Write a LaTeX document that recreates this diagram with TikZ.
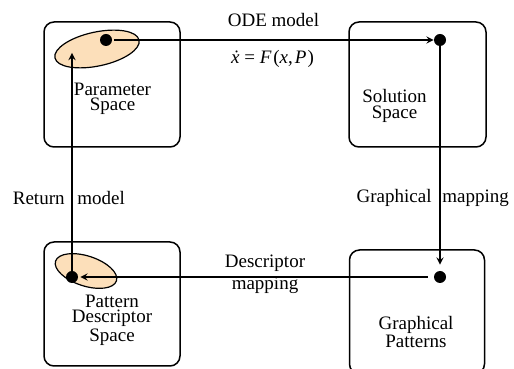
\documentclass[tikz,border=0pt]{standalone}
\usepackage{fontspec}
\setmainfont{Liberation Serif}
\usepackage{tikz}
\usetikzlibrary{shapes.geometric}

\definecolor{peach}{RGB}{252,223,186}
\tikzset{
  spacebox/.style = {draw, rounded corners = 5pt, line width = 0.75pt,
    minimum width = 68pt, minimum height = 62.5pt},
  blob/.style = {draw, ellipse, fill = peach, line width = 0.6pt, inner sep = 0pt},
  dot/.style = {circle, fill = black, minimum size = 6pt, inner sep = 0pt},
  lbl/.style = {font = \fontsize{9.5pt}{7.8pt}\selectfont, align = center},
  link/.style = {->, >=stealth, line width = 0.6pt}
}

\begin{document}
\begin{tikzpicture}[x = 0.5pt, y = 0.5pt]
\useasboundingbox (0, 0) rectangle (514, 369);
% the four spaces
\node (parbox) [spacebox] at (112, 284.5) {};
\node (solbox) [spacebox, minimum width = 68.5pt] at (417.5, 284.5) {};
\node (desbox) [spacebox, minimum height = 62pt] at (112, 65) {};
\node (patbox) [spacebox, minimum width = 67.5pt, minimum height = 62pt] at (417, 57) {};
\node (partext) [lbl] at (112.5, 270) {Parameter\\Space};
\node (soltext) [lbl] at (394.5, 263) {Solution\\Space};
\node (destext) [lbl] at (112, 49) {Pattern\\Descriptor\\Space};
\node (pattext) [lbl] at (416, 37) {Graphical\\Patterns};
% regions and points
\node (parblob) [blob, rotate = 12, minimum width = 43pt, minimum height = 17pt] at (97, 320) {};
\node (desblob) [blob, rotate = -18, minimum width = 32pt, minimum height = 15pt] at (86, 98) {};
\node (pardot) [dot] at (106, 329) {};
\node (soldot) [dot] at (440, 329) {};
\node (patdot) [dot] at (440, 92) {};
\node (desdot) [dot] at (72, 92) {};
\coordinate (retend) at (72, 316);
% maps
\draw [link, shorten <= 1pt] (pardot) -- (soldot);
\draw [link, shorten >= 3pt] (soldot) -- (patdot);
\draw [link, shorten <= 3pt, shorten >= 1pt] (patdot) -- (desdot);
\draw [link] (desdot.center) -- (retend);
\node (odelbl) [lbl] at (273.5, 349) {ODE model};
\node (odeeq) [lbl] at (272.5, 310) {{\itshape\.{x}} = {\itshape F}\kern1pt({\itshape x},\kern1pt{\itshape P}\kern0.5pt)};
\node (retlbl) [lbl, anchor = east, inner sep = 0pt] at (65, 171) {Return};
\node (retlbl2) [lbl, anchor = west, inner sep = 0pt] at (77, 171) {model};
\node (grlbl) [lbl, anchor = east, inner sep = 0pt] at (432, 171) {Graphical};
\node (grlbl2) [lbl, anchor = west, inner sep = 0pt] at (442, 171) {mapping};
\node (deslbl) [lbl] at (265, 106) {Descriptor};
\node (deslbl2) [lbl] at (265, 84) {mapping};
\end{tikzpicture}
\end{document}
